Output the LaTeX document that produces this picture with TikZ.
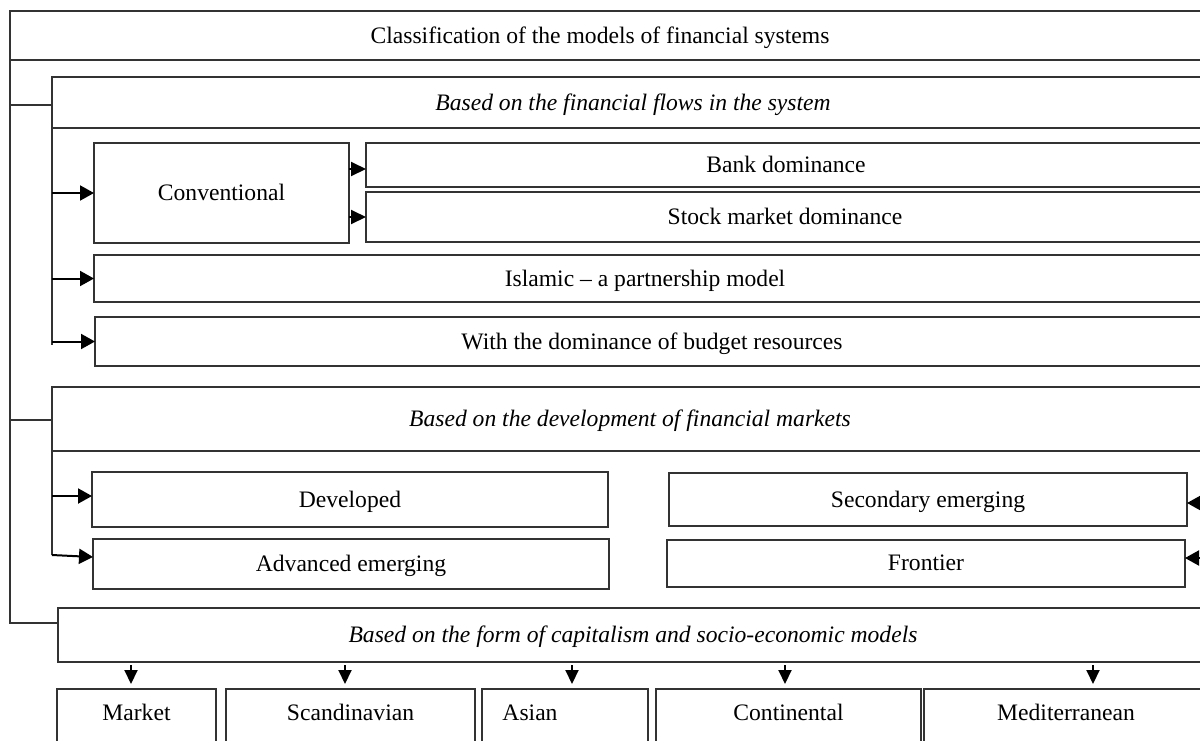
\documentclass[tikz,border=0pt]{standalone}
\usepackage{fontspec}
\setmainfont{Liberation Serif}
\usetikzlibrary{arrows.meta}
\begin{document}
\begin{tikzpicture}[x=0.5pt,y=-0.5pt,
  every node/.style={font=\fontsize{11.8}{14}\selectfont,text depth=0.5pt},
  box/.style={draw=black!80,line width=0.6pt,rectangle,anchor=north west,inner sep=0pt,outer sep=0pt},
  hbox/.style={box,font=\fontsize{11.8}{14}\selectfont\itshape},
  lbl/.style={inner sep=0pt},
  wire/.style={draw=black!80,line width=0.6pt},
  arr/.style={line width=1pt,-{Triangle[length=7pt,width=7.5pt]}},
  arrs/.style={line width=1pt,-{Triangle[length=7.5pt,width=7pt]}},
  arrd/.style={line width=1pt,-{Triangle[length=7pt,width=6.5pt]},shorten <=1.5pt,shorten >=2.5pt}]
\useasboundingbox (0,0) rectangle (1200,740);
\clip (0,0) rectangle (1200,740);
% top box
\node[box,minimum width=602.5pt,minimum height=24.5pt] (top) at (10,11) {};
\node[lbl] (toptxt) at ([xshift=-6.25pt]top.center) {Classification of the models of financial systems};
% section 1
\node[hbox,minimum width=581pt,minimum height=25.5pt] (h1) at (52,77) {Based on the financial flows in the system};
\node[box,minimum width=127.5pt,minimum height=50pt] (conv) at (94,143) {Conventional};
\node[box,minimum width=420pt,minimum height=22pt] (bank) at (366,143) {Bank dominance};
\node[box,minimum width=419pt,minimum height=25pt] (stock) at (366,192) {Stock market dominance};
\node[box,minimum width=560.5pt,minimum height=23.5pt] (islam) at (94,255) {};
\node[lbl] (islamtxt) at ([xshift=-4.75pt]islam.center) {Islamic -- a partnership model};
\node[box,minimum width=557pt,minimum height=24.5pt] (budget) at (95,317) {With the dominance of budget resources};
% section 2
\node[hbox,minimum width=578pt,minimum height=32pt] (h2) at (52,387) {Based on the development of financial markets};
\node[box,minimum width=258pt,minimum height=27.5pt] (dev) at (92,472) {Developed};
\node[box,minimum width=258pt,minimum height=25pt] (adv) at (93,539) {Advanced emerging};
\node[box,minimum width=259pt,minimum height=26.5pt] (sec) at (669,473) {Secondary emerging};
\node[box,minimum width=259pt,minimum height=23.5pt] (front) at (667,540) {Frontier};
% section 3
\node[hbox,minimum width=575pt,minimum height=27pt] (cap) at (58,608) {Based on the form of capitalism and socio-economic models};
\node[box,minimum width=79.5pt,minimum height=35.5pt] (market) at (57,689) {};
\node[box,minimum width=124.5pt,minimum height=35.5pt] (scand) at (226,689) {};
\node[box,minimum width=83pt,minimum height=35.5pt] (asian) at (482,689) {};
\node[box,minimum width=132.5pt,minimum height=35.5pt] (cont) at (656,689) {};
\node[box,minimum width=142pt,minimum height=35.5pt] (med) at (924,689) {};
\node[lbl] (tmarket) at ([yshift=-12pt]market.north) {Market};
\node[lbl] (tscand) at ([yshift=-12pt]scand.north) {Scandinavian};
\node[lbl] (tasian) at ([xshift=-17.5pt,yshift=-12pt]asian.north) {Asian};
\node[lbl] (tcont) at ([yshift=-12pt]cont.north) {Continental};
\node[lbl] (tmed) at ([yshift=-12pt]med.north) {Mediterranean};
% outer wiring
\draw[wire] (top.south west) -- ([yshift=-7.5pt]cap.north west -| top.west) -- ([yshift=-7.5pt]cap.north west);
\draw[wire] ([yshift=-14pt]h1.north west -| top.west) -- ([yshift=-14pt]h1.north west);
\draw[wire] ([yshift=-16.5pt]h2.north west -| top.west) -- ([yshift=-16.5pt]h2.north west);
% section 1 wiring
\draw[wire] (h1.south west) -- ++(0,217);
\draw[arr] (conv.west -| h1.west) -- (conv.west);
\draw[arr] (islam.west -| h1.west) -- (islam.west);
\draw[arr] (budget.west -| h1.west) -- (budget.west);
\draw[arrs] ([yshift=-2pt]bank.west -| conv.east) -- ([yshift=-2pt]bank.west);
\draw[arrs] (stock.west -| conv.east) -- (stock.west);
% section 2 wiring
\draw[wire] (h2.south west) -- ++(0,104);
\draw[arr] ([yshift=1.75pt]dev.west -| h2.west) -- ([yshift=1.75pt]dev.west);
\draw[arr] ([yshift=4.5pt]adv.west -| h2.west) -- ([yshift=3.5pt]adv.west);
\coordinate (secin) at (1215,503);
\coordinate (frontin) at (1215,558);
\draw[arr] (secin) -- (secin -| sec.east);
\draw[arr] (frontin) -- (frontin -| front.east);
% section 3 wiring
\draw[arrd] ([xshift=-2.75pt]market.north |- cap.south) -- ([xshift=-2.75pt]market.north);
\draw[arrd] ([xshift=-2.75pt]scand.north |- cap.south) -- ([xshift=-2.75pt]scand.north);
\draw[arrd] ([xshift=3.5pt]asian.north |- cap.south) -- ([xshift=3.5pt]asian.north);
\draw[arrd] ([xshift=-1.75pt]cont.north |- cap.south) -- ([xshift=-1.75pt]cont.north);
\draw[arrd] ([xshift=13.5pt]med.north |- cap.south) -- ([xshift=13.5pt]med.north);
\end{tikzpicture}
\end{document}
